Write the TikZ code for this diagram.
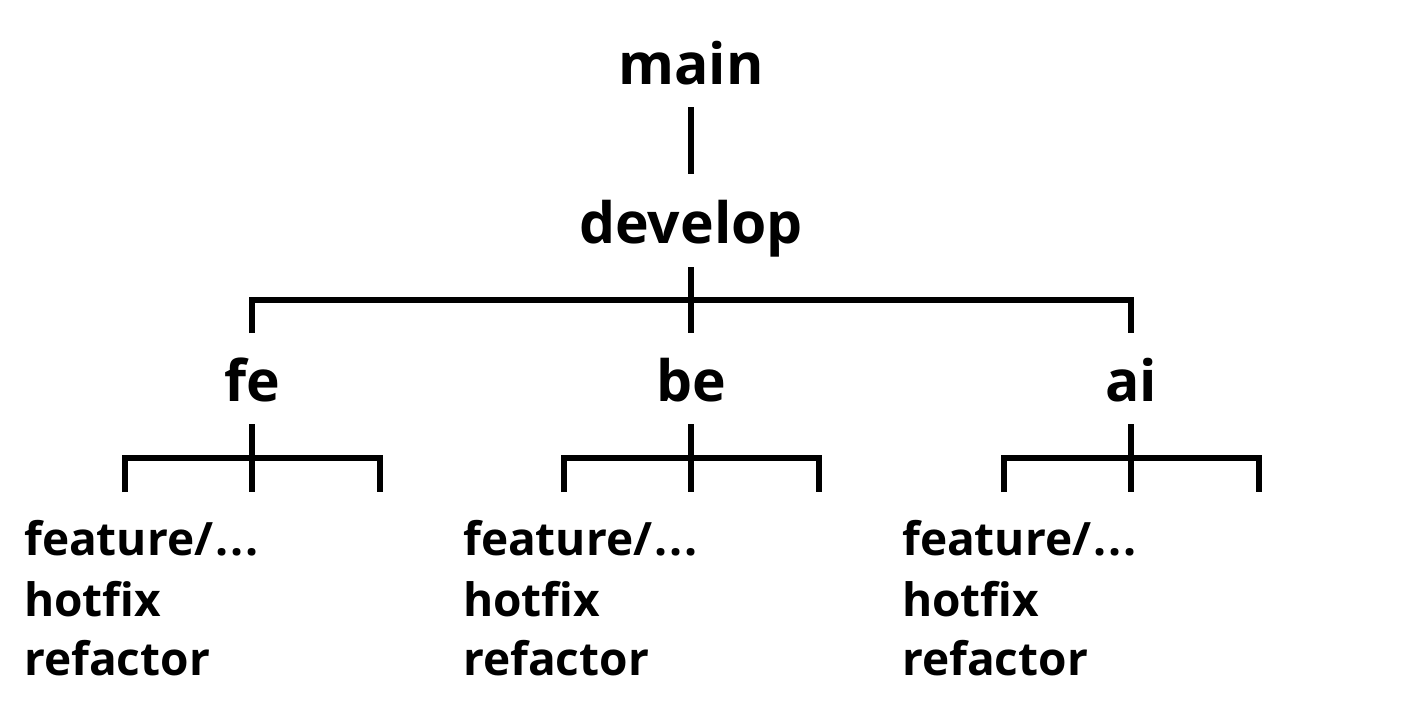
\documentclass[tikz,border=0pt]{standalone}
\usepackage{fontspec}
\setmainfont{Open Sans}
\begin{document}
\begin{tikzpicture}[x=1pt,y=-1pt,
  br/.style={line width=6pt, line join=miter, line cap=butt},
  topname/.style={font=\fontsize{57}{68}\selectfont\bfseries, anchor=base, inner sep=0pt},
  leaf/.style={font=\fontsize{46}{58}\selectfont\bfseries, anchor=base west, inner sep=0pt}]
\useasboundingbox (0,0) rectangle (1410,721);
\node[topname] (main) at (691,84) {main};
\node[topname] (develop) at (691,243) {develop};
\node[topname] (fe) at (252,401) {fe};
\node[topname] (be) at (691,401) {be};
\node[topname] (ai) at (1131,401) {ai};
\draw[br] ([yshift=-23pt]main.base) -- ([yshift=69pt]develop.base);
\draw[br] ([yshift=-24pt]develop.base) -- ([yshift=-90pt]develop.base);
\draw[br] ([yshift=68pt]fe.base) -- ++(0,-33) -| ([yshift=68pt]ai.base);
\foreach \b/\lx in {fe/24,be/463,ai/902}{
  \node[leaf] (\b1) at (\lx,555) {feature/\kern2pt.\kern2pt.\kern2pt.};
  \node[leaf] (\b2) at (\lx,616) {hotfix};
  \node[leaf] (\b3) at (\lx,675) {refactor};
  \draw[br] ([yshift=-23pt]\b.base) -- ([yshift=-91pt]\b.base);
  \coordinate (\b L) at ([xshift=-127pt,yshift=-91pt]\b.base);
  \coordinate (\b R) at ([xshift=128pt,yshift=-91pt]\b.base);
  \draw[br] (\b L) -- ++(0,-34) -| (\b R);
}
\end{tikzpicture}
\end{document}
